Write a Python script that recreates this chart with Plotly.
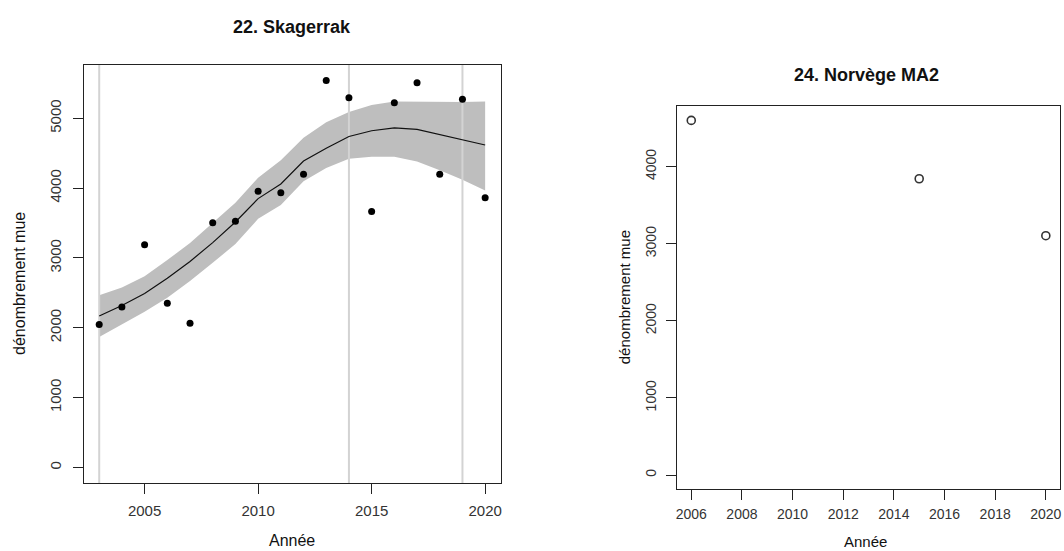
import plotly.graph_objects as go

# ---------------- data ----------------
years_skag = list(range(2003, 2021))
counts_skag = [2046, 2298, 3190, 2350, 2064, 3505, 3524, 3957, 3934, 4200,
               5541, 5293, 3667, 5222, 5508, 4200, 5274, 3863]
fit_skag = [2169, 2320, 2490, 2710, 2950, 3220, 3515, 3850, 4060, 4387,
            4570, 4740, 4822, 4862, 4840, 4766, 4695, 4618]
upper_skag = [2465, 2578, 2740, 2970, 3215, 3500, 3790, 4150, 4400, 4720,
              4944, 5090, 5190, 5240, 5235, 5232, 5235, 5240]
lower_skag = [1868, 2050, 2230, 2430, 2670, 2930, 3200, 3560, 3760, 4100,
              4290, 4421, 4450, 4450, 4380, 4255, 4120, 3967]
vline_years = [2003, 2014, 2019]

years_nor = [2006, 2015, 2020]
counts_nor = [4600, 3843, 3104]

xticks_skag = [2005, 2010, 2015, 2020]
yticks_skag = [0, 1000, 2000, 3000, 4000, 5000]
xticks_nor = [2006, 2008, 2010, 2012, 2014, 2016, 2018, 2020]
yticks_nor = [0, 1000, 2000, 3000, 4000]

title_skag = "22. Skagerrak"
title_nor = "24. Norvège MA2"
xlab = "Année"
ylab = "dénombrement mue"

# ---------------- layout constants ----------------
W, H = 1064, 551
FONT = "Liberation Sans, Arial, sans-serif"
yr_skag = [-222, 5763]
yr_nor = [-184, 4784]

def px_x(p):
    return p / W

def px_y(p):
    return (H - p) / H

fig = go.Figure()

# band
fig.add_trace(go.Scatter(x=years_skag, y=lower_skag, mode="lines",
                         line=dict(width=0, color="#bebebe"),
                         xaxis="x", yaxis="y", showlegend=False, hoverinfo="skip"))
fig.add_trace(go.Scatter(x=years_skag, y=upper_skag, mode="lines", fill="tonexty",
                         fillcolor="#bebebe", line=dict(width=0, color="#bebebe"),
                         xaxis="x", yaxis="y", showlegend=False, hoverinfo="skip"))
# vertical reference lines
vx, vy = [], []
for yr in vline_years:
    vx += [yr, yr, None]
    vy += [yr_skag[0] - 1000, yr_skag[1] + 1000, None]
fig.add_trace(go.Scatter(x=vx, y=vy, mode="lines",
                         line=dict(width=2, color="#d3d3d3"),
                         xaxis="x", yaxis="y", showlegend=False, hoverinfo="skip"))
# fitted line
fig.add_trace(go.Scatter(x=years_skag, y=fit_skag, mode="lines",
                         line=dict(width=1.2, color="#111111"),
                         xaxis="x", yaxis="y", showlegend=False))
# points
fig.add_trace(go.Scatter(x=years_skag, y=counts_skag, mode="markers",
                         marker=dict(size=7, color="#000000"),
                         xaxis="x", yaxis="y", showlegend=False, cliponaxis=False))

# right panel points
fig.add_trace(go.Scatter(x=years_nor, y=counts_nor, mode="markers",
                         marker=dict(size=8, symbol="circle-open", color="#333333",
                                     line=dict(width=1.6, color="#333333")),
                         xaxis="x2", yaxis="y2", showlegend=False, cliponaxis=False))

axis_common = dict(showline=True, mirror=True, linecolor="#222222", linewidth=1,
                   ticks="outside", ticklen=10, tickcolor="#222222", tickwidth=1,
                   showgrid=False, zeroline=False)

fig.update_layout(
    width=W, height=H,
    margin=dict(l=0, r=0, t=0, b=0),
    paper_bgcolor="white", plot_bgcolor="white",
    font=dict(family=FONT, color="#222222"),
    xaxis=dict(domain=[px_x(83), px_x(501)], range=[2002.32, 2020.68],
               tickmode="array", tickvals=xticks_skag, ticklabelstandoff=4,
               tickfont=dict(size=15, color="#333333"), anchor="y", **axis_common),
    yaxis=dict(domain=[px_y(483), px_y(65)], range=yr_skag,
               tickmode="array", tickvals=yticks_skag, tickangle=-90, ticklabelstandoff=6,
               tickfont=dict(size=15, color="#333333"), anchor="x", **axis_common),
    xaxis2=dict(domain=[px_x(678), px_x(1062)], range=[2005.44, 2020.56],
                tickmode="array", tickvals=xticks_nor, ticklabelstandoff=2,
                tickfont=dict(size=14, color="#333333"), anchor="y2", **axis_common),
    yaxis2=dict(domain=[px_y(489.2), px_y(106.2)], range=yr_nor,
                tickmode="array", tickvals=yticks_nor, tickangle=-90, ticklabelstandoff=4,
                tickfont=dict(size=14, color="#333333"), anchor="x2", **axis_common),
)

ann = [
    dict(text="<b>%s</b>" % title_skag, x=px_x(292), y=px_y(27), size=18, angle=0),
    dict(text="<b>%s</b>" % title_nor, x=px_x(868), y=px_y(75), size=18, angle=0),
    dict(text=xlab, x=px_x(292), y=px_y(540), size=16, angle=0),
    dict(text=xlab, x=px_x(867), y=px_y(541), size=15, angle=0),
    dict(text=ylab, x=px_x(18), y=px_y(283), size=16, angle=-90),
    dict(text=ylab, x=px_x(625), y=px_y(297), size=15, angle=-90),
]
for a in ann:
    fig.add_annotation(text=a["text"], x=a["x"], y=a["y"], xref="paper", yref="paper",
                       xanchor="center", yanchor="middle", showarrow=False,
                       textangle=a["angle"],
                       font=dict(family=FONT, size=a["size"], color="#111111"))

fig.write_html("out.html", config={"displayModeBar": False},
               post_script="document.body.style.margin='0';document.body.style.overflow='hidden';")
